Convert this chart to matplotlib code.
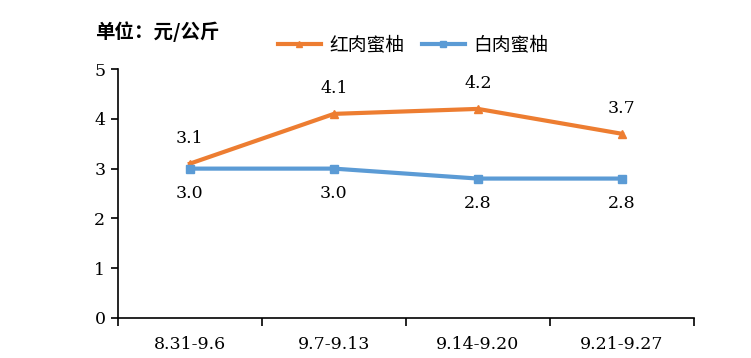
import matplotlib
matplotlib.use("Agg")
import matplotlib.pyplot as plt
import numpy as np

plt.rcParams['font.family'] = ['DejaVu Serif', 'Noto Sans CJK SC']

weeks = ["8.31-9.6", "9.7-9.13", "9.14-9.20", "9.21-9.27"]
red_pomelo = [3.1, 4.1, 4.2, 3.7]
white_pomelo = [3.0, 3.0, 2.8, 2.8]

orange = "#ED7D31"
blue = "#5B9BD5"
num_size = 12.5

fig = plt.figure(figsize=(7.51, 3.58), dpi=100)
ax = fig.add_axes([0.157, 0.112, 0.767, 0.695])

x = np.arange(len(weeks))
ax.plot(x, red_pomelo, color=orange, lw=3, marker="^", ms=6, label="红肉蜜柚")
ax.plot(x, white_pomelo, color=blue, lw=3, marker="s", ms=6, label="白肉蜜柚")

for xi, v in zip(x, red_pomelo):
    ax.annotate(f"{v:.1f}", (xi, v), xytext=(0, 12), textcoords="offset points",
                ha="center", va="bottom", fontsize=num_size)
for xi, v in zip(x, white_pomelo):
    ax.annotate(f"{v:.1f}", (xi, v), xytext=(0, -12), textcoords="offset points",
                ha="center", va="top", fontsize=num_size)

ax.set_xlim(-0.5, len(weeks) - 0.5)
ax.set_ylim(0, 5)
ax.set_yticks(range(0, 6))
ax.set_xticks(x)
ax.set_xticklabels(weeks, fontsize=num_size)
ax.set_xticks(np.arange(-0.5, len(weeks)), minor=True)
ax.tick_params(axis="x", which="major", length=0, pad=13)
ax.tick_params(axis="x", which="minor", length=6, width=1.2, direction="out")
ax.tick_params(axis="y", length=5, width=1.2, direction="out", labelsize=num_size, pad=4)

for s in ["top", "right"]:
    ax.spines[s].set_visible(False)
for s in ["left", "bottom"]:
    ax.spines[s].set_linewidth(1.2)
    ax.spines[s].set_color("black")

fig.text(95 / 751, 0.913, "单位：元/公斤", fontsize=14, fontweight="bold",
         family=['Noto Sans CJK SC'], va="center")
fig.legend(loc="center", bbox_to_anchor=(413 / 751, 0.874), ncol=2, frameon=False,
           prop={'family': 'Noto Sans CJK SC', 'size': 13.5}, handlelength=2.3,
           columnspacing=0.95, handletextpad=0.45, markerscale=0.8)

fig.savefig("out.png", dpi=100)
